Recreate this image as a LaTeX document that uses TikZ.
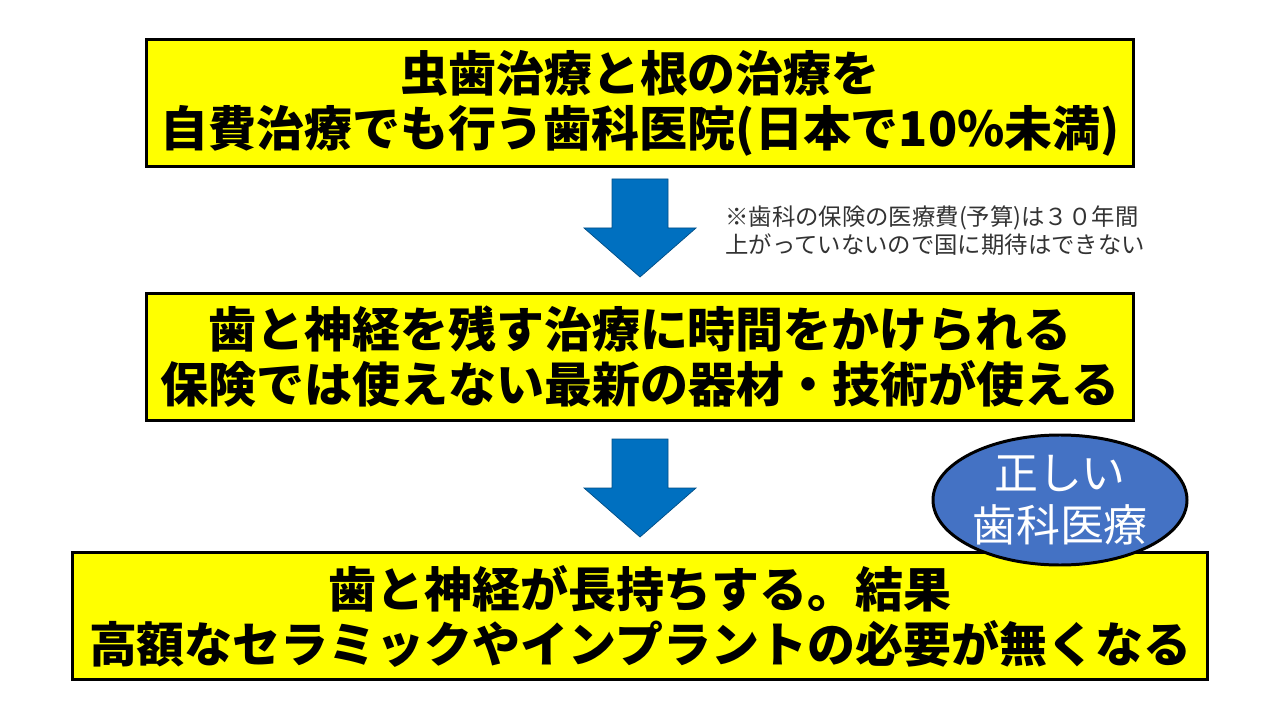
\documentclass[tikz,border=0pt]{standalone}
\usepackage{fontspec}
\usetikzlibrary{shapes.geometric}
\newfontfamily\jp{Noto Sans CJK JP}
\definecolor{boxyellow}{HTML}{FFFF00}
\definecolor{arrowblue}{HTML}{0070C0}
\definecolor{ovalblue}{HTML}{4472C4}
\begin{document}
\begin{tikzpicture}[x=0.2mm,y=-0.2mm]
        \tikzstyle{stepbox}=[rectangle,draw=black,line width=1.7pt,fill=boxyellow,minimum height=25.4mm,align=center,inner sep=0pt,font=\jp\bfseries\fontsize{27.3}{31.3}\selectfont]
        \tikzstyle{blockarrow}=[fill=arrowblue,draw=arrowblue!70!black,line width=0.4pt]
        \tikzstyle{oval}=[ellipse,draw=black,line width=1.7pt,fill=ovalblue,text=white,minimum width=50.8mm,minimum height=26mm,inner sep=0pt,align=center,font=\jp\fontsize{25}{29.5}\selectfont]
        \tikzstyle{remark}=[anchor=west,align=left,text=black!80,inner sep=0pt,font=\jp\fontsize{13.3}{16}\selectfont]
        \useasboundingbox (0,0) rectangle (1280,720);
        \fill[white] (0,0) rectangle (1280,720);
        \begin{scope}
                \node [stepbox,minimum width=197.2mm] (b1) at (640,103) {虫歯治療と根の治療を\\自費治療でも行う歯科医院(日本で10\%未満)};
                \node [stepbox,minimum width=197.2mm] (b2) at (640,357) {歯と神経を残す治療に時間をかけられる\\保険では使えない最新の器材・技術が使える};
                \node [stepbox,minimum width=226.8mm] (b3) at (640,616) {歯と神経が長持ちする。結果\\高額なセラミックやインプラントの必要が無くなる};
                \node [oval] (goal) at (1060,500) {正しい\\歯科医療};
                \node [remark] (note) at (725,231) {※歯科の保険の医療費(予算)は３０年間\\上がっていないので国に期待はできない};
                % block arrows between the boxes
                \path[blockarrow] (612,179) -- (668,179) -- (668,228) -- (696,228) -- (640,277) -- (584,228) -- (612,228) -- cycle;
                \path[blockarrow] (612,439) -- (668,439) -- (668,488) -- (696,488) -- (640,537) -- (584,488) -- (612,488) -- cycle;
        \end{scope}
\end{tikzpicture}
\end{document}
